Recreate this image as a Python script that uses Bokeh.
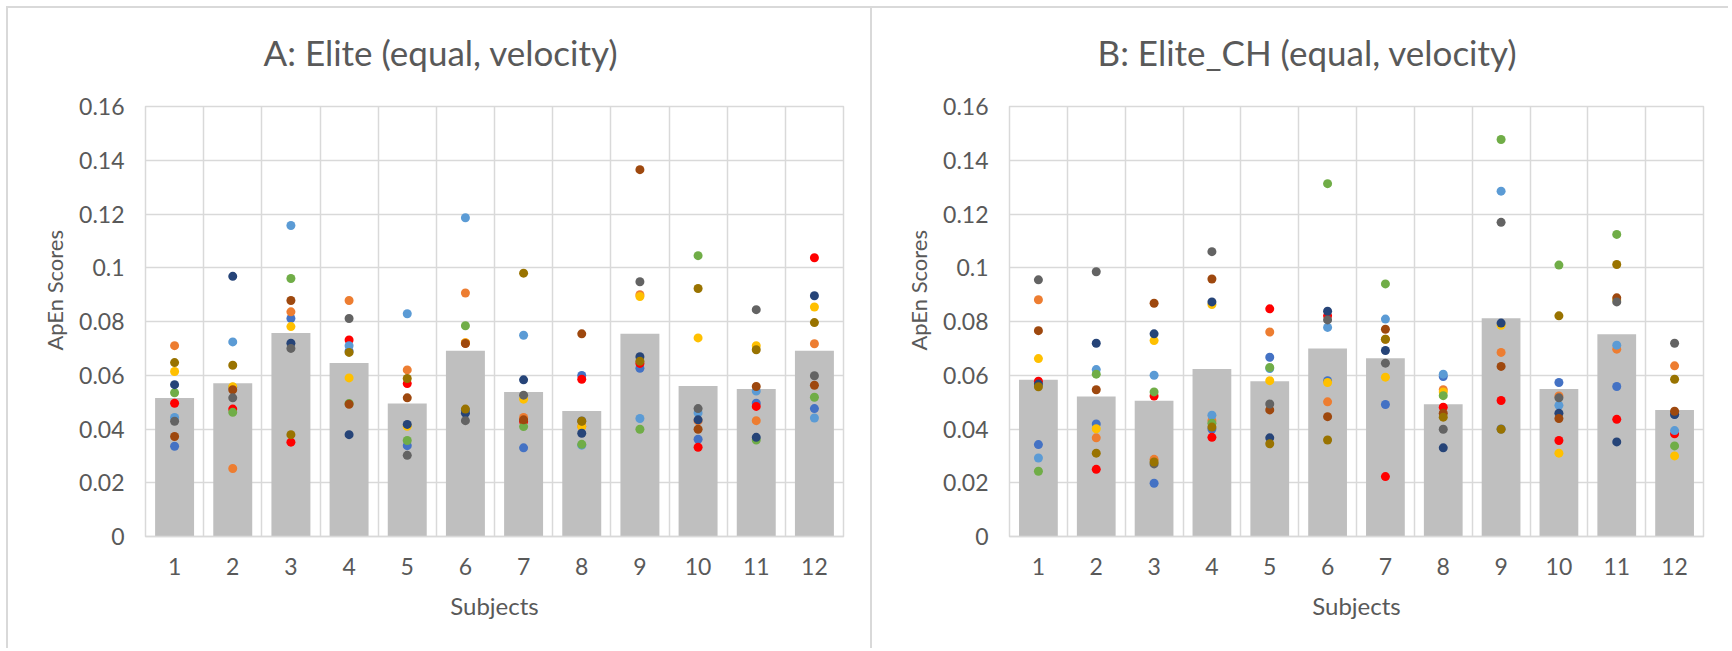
from bokeh.plotting import figure
from bokeh.layouts import row
from bokeh.models import Range1d, FixedTicker, ColumnDataSource, Title
from bokeh.embed import file_html
from bokeh.resources import INLINE

subjects = ["1", "2", "3", "4", "5", "6", "7", "8", "9", "10", "11", "12"]
y_ticks = [0, 0.02, 0.04, 0.06, 0.08, 0.1, 0.12, 0.14, 0.16]
y_tick_labels = ["0", "0.02", "0.04", "0.06", "0.08", "0.1", "0.12", "0.14", "0.16"]

series_names = ["blue", "orange", "red", "yellow", "lightblue", "green",
                "darkblue", "brown", "darkgray", "olive"]
series_colors = ["#4472C4", "#ED7D31", "#FF0000", "#FFC000", "#5B9BD5", "#70AD47",
                 "#264478", "#9E480E", "#636363", "#997300"]

# ---- Panel A: Elite (equal, velocity) ----
a_mean = [0.0515, 0.0570, 0.0757, 0.0646, 0.0495, 0.0691, 0.0538, 0.0467, 0.0754, 0.0560, 0.0549, 0.0691]
a_blue = [0.0336, 0.0555, 0.0811, 0.0690, 0.0338, 0.0470, 0.0330, 0.0599, 0.0626, 0.0362, 0.0496, 0.0476]
a_orange = [0.0710, 0.0253, 0.0836, 0.0878, 0.0620, 0.0906, 0.0443, 0.0410, 0.0900, 0.0430, 0.0431, 0.0717]
a_red = [0.0496, 0.0474, 0.0351, 0.0731, 0.0569, 0.0720, 0.0428, 0.0585, 0.0644, 0.0332, 0.0484, 0.1037]
a_yellow = [0.0614, 0.0557, 0.0781, 0.0590, 0.0410, 0.0721, 0.0511, 0.0409, 0.0893, 0.0739, 0.0710, 0.0854]
a_lightblue = [0.0443, 0.0724, 0.1157, 0.0710, 0.0829, 0.1186, 0.0749, 0.0340, 0.0439, 0.0460, 0.0541, 0.0441]
a_green = [0.0535, 0.0462, 0.0960, 0.0495, 0.0357, 0.0784, 0.0409, 0.0343, 0.0399, 0.1045, 0.0359, 0.0518]
a_darkblue = [0.0565, 0.0968, 0.0719, 0.0379, 0.0417, 0.0459, 0.0583, 0.0384, 0.0669, 0.0434, 0.0369, 0.0896]
a_brown = [0.0372, 0.0546, 0.0878, 0.0492, 0.0516, 0.0718, 0.0434, 0.0754, 0.1365, 0.0399, 0.0558, 0.0563]
a_darkgray = [0.0429, 0.0516, 0.0700, 0.0811, 0.0302, 0.0431, 0.0526, 0.0430, 0.0948, 0.0476, 0.0844, 0.0598]
a_olive = [0.0647, 0.0637, 0.0379, 0.0685, 0.0588, 0.0474, 0.0980, 0.0429, 0.0652, 0.0923, 0.0695, 0.0796]

# ---- Panel B: Elite_CH (equal, velocity) ----
b_mean = [0.0583, 0.0521, 0.0505, 0.0623, 0.0578, 0.0700, 0.0663, 0.0492, 0.0812, 0.0549, 0.0753, 0.0471]
b_blue = [0.0342, 0.0419, 0.0198, 0.0400, 0.0667, 0.0580, 0.0491, 0.0595, 0.0400, 0.0573, 0.0558, 0.0455]
b_orange = [0.0881, 0.0367, 0.0287, 0.0431, 0.0761, 0.0501, 0.0734, 0.0546, 0.0685, 0.0523, 0.0697, 0.0635]
b_red = [0.0578, 0.0250, 0.0523, 0.0369, 0.0847, 0.0821, 0.0223, 0.0481, 0.0506, 0.0357, 0.0436, 0.0382]
b_yellow = [0.0662, 0.0401, 0.0729, 0.0863, 0.0580, 0.0573, 0.0593, 0.0538, 0.0786, 0.0310, 0.0880, 0.0300]
b_lightblue = [0.0292, 0.0621, 0.0600, 0.0451, 0.0625, 0.0778, 0.0809, 0.0604, 0.1285, 0.0488, 0.0712, 0.0394]
b_green = [0.0243, 0.0604, 0.0538, 0.0421, 0.0629, 0.1313, 0.0940, 0.0524, 0.1477, 0.1010, 0.1124, 0.0337]
b_darkblue = [0.0567, 0.0719, 0.0754, 0.0873, 0.0367, 0.0838, 0.0692, 0.0330, 0.0794, 0.0459, 0.0352, 0.0454]
b_brown = [0.0766, 0.0546, 0.0868, 0.0958, 0.0471, 0.0446, 0.0771, 0.0459, 0.0633, 0.0439, 0.0888, 0.0466]
b_darkgray = [0.0955, 0.0985, 0.0270, 0.1060, 0.0493, 0.0806, 0.0645, 0.0399, 0.1169, 0.0516, 0.0873, 0.0719]
b_olive = [0.0557, 0.0310, 0.0277, 0.0407, 0.0345, 0.0359, 0.0734, 0.0444, 0.0399, 0.0821, 0.1012, 0.0585]

a_series = [a_blue, a_orange, a_red, a_yellow, a_lightblue, a_green, a_darkblue, a_brown, a_darkgray, a_olive]
b_series = [b_blue, b_orange, b_red, b_yellow, b_lightblue, b_green, b_darkblue, b_brown, b_darkgray, b_olive]

FONT = "Lato"
TXT = "#595959"
GRID = "#d9d9d9"


def make_panel(title, means, series, width, mb_left, mb_right, title_offset, css):
    n = len(subjects)
    xs = list(range(1, n + 1))
    p = figure(width=width, height=642, output_backend="svg", toolbar_location=None,
               x_range=Range1d(0.5, n + 0.5), y_range=Range1d(0, 0.16),
               min_border_left=mb_left, min_border_right=mb_right,
               min_border_top=98, min_border_bottom=114,
               background_fill_color="white", border_fill_color="white",
               styles=css)
    p.title.text = title
    p.title.align = "left"
    p.title.offset = title_offset
    p.title.text_font = FONT
    p.title.text_font_size = "35px"
    p.title.text_font_style = "normal"
    p.title.text_color = TXT
    p.title.standoff = 8
    # thin spacer between the title and the plot area
    p.add_layout(Title(text=" ", text_font_size="2px", standoff=26,
                       text_color="white"), "above")

    # y-axis title (placed like Excel's, slightly above the plot's centre)
    p.add_layout(Title(text="ApEn Scores", align="left", offset=186, standoff=17,
                       text_font=FONT, text_font_size="22px", text_font_style="normal",
                       text_color=TXT), "left")

    p.outline_line_color = GRID
    p.outline_line_width = 1.5

    p.vbar(x=xs, top=means, width=0.67, bottom=0, fill_color="#BFBFBF", line_color=None)

    for name, col, vals in zip(series_names, series_colors, series):
        src = ColumnDataSource(data=dict(x=xs, y=vals))
        p.scatter("x", "y", source=src, size=9, fill_color=col, line_color=None, name=name)

    p.xaxis.ticker = FixedTicker(ticks=xs)
    p.xaxis.major_label_overrides = {i + 1: s for i, s in enumerate(subjects)}
    p.yaxis.ticker = FixedTicker(ticks=y_ticks)
    p.yaxis.major_label_overrides = {t: l for t, l in zip(y_ticks, y_tick_labels)}

    p.xgrid.ticker = FixedTicker(ticks=[i + 0.5 for i in range(0, n + 1)])
    p.xgrid.grid_line_color = GRID
    p.xgrid.grid_line_width = 1.5
    p.ygrid.grid_line_color = GRID
    p.ygrid.grid_line_width = 1.5

    for ax in (p.xaxis[0], p.yaxis[0]):
        ax.major_tick_line_color = None
        ax.minor_tick_line_color = None
        ax.major_label_text_font = FONT
        ax.major_label_text_font_size = "23px"
        ax.major_label_text_color = TXT
        ax.axis_label_text_font = FONT
        ax.axis_label_text_font_style = "normal"
        ax.axis_label_text_color = TXT
    p.xaxis.axis_label_text_font_size = "24px"
    p.xaxis.axis_line_color = GRID
    p.xaxis.axis_line_width = 1.5
    p.yaxis.axis_line_color = None
    p.xaxis.axis_label = "Subjects"
    p.xaxis.major_label_standoff = 15
    p.xaxis.axis_label_standoff = 13
    p.yaxis.major_label_standoff = 15
    return p


css1 = {"margin-left": "6px", "margin-top": "6px",
        "border-left": "2px solid #d9d9d9", "border-top": "2px solid #d9d9d9"}
css2 = {"margin-top": "6px",
        "border-left": "2px solid #d9d9d9", "border-top": "2px solid #d9d9d9"}

p1 = make_panel("A: Elite (equal, velocity)", a_mean, a_series, 864, 137, 29, 118, css1)
p2 = make_panel("B: Elite_CH (equal, velocity)", b_mean, b_series, 858, 137, 27, 88, css2)

layout = row(p1, p2)
open("out.html", "w").write(file_html(layout, INLINE))
